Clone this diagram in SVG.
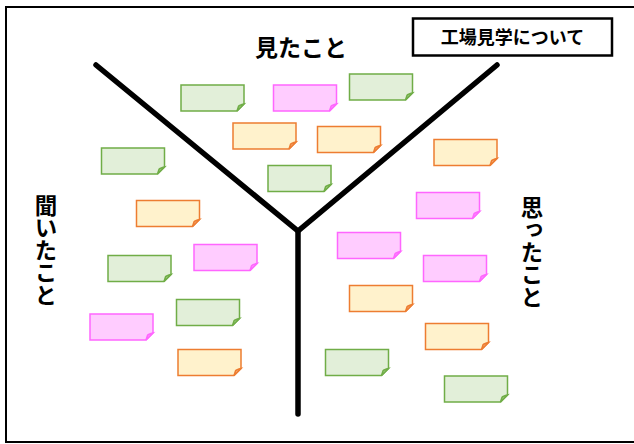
<svg xmlns="http://www.w3.org/2000/svg" xmlns:xlink="http://www.w3.org/1999/xlink" width="634" height="444" viewBox="0 0 634 444">
<style>
.frame{fill:#fff;stroke:#000;stroke-width:2}
.axis{fill:none;stroke:#000;stroke-width:5.5;stroke-linecap:round;stroke-linejoin:miter}
.lbl{font-family:"Noto Sans CJK JP","Noto Sans CJK SC",sans-serif;font-weight:bold;fill:#000}
.green{fill:#e2efd9;stroke:#70ad47;stroke-width:1.5}
.green .fold{fill:#a9d18e}
.pink{fill:#ffccff;stroke:#ff66ff;stroke-width:1.5}
.pink .fold{fill:#ff99ff}
.orange{fill:#fff2cc;stroke:#ed7d31;stroke-width:1.5}
.orange .fold{fill:#f4b183}
</style>
<defs>
<path id="body" d="M0,0 H63 V19 L56,26 H0 Z"/>
<path id="fold" d="M56,26 L57.6,21.2 Q58.5,20 63,19 Z"/>
</defs>
<rect class="frame" x="6" y="7" width="640" height="435"/>
<g id="title">
<rect x="413" y="18.5" width="199" height="37" fill="#fff" stroke="#000" stroke-width="2.5"/>
<text class="lbl" x="512.5" y="43.5" font-size="18" text-anchor="middle">工場見学について</text>
</g>
<g id="connectors">
<path class="axis" d="M96,65 L298,231 L497,65"/>
<path class="axis" d="M298,231 V414"/>
</g>
<g id="label-top"><text class="lbl" x="301" y="55.5" font-size="23" text-anchor="middle">見たこと</text></g>
<g id="label-left"><text class="lbl" x="46" y="250" font-size="22.5" text-anchor="middle" writing-mode="vertical-rl">聞いたこと</text></g>
<g id="label-right"><text class="lbl" x="532" y="252" font-size="22.5" text-anchor="middle" writing-mode="vertical-rl">思ったこと</text></g>
<g id="n-g1" class="green" transform="translate(181,85)"><use href="#body"/><use href="#fold" class="fold"/></g>
<g id="n-p1" class="pink" transform="translate(273.5,85)"><use href="#body"/><use href="#fold" class="fold"/></g>
<g id="n-g2" class="green" transform="translate(349.5,74)"><use href="#body"/><use href="#fold" class="fold"/></g>
<g id="n-o1" class="orange" transform="translate(233,123)"><use href="#body"/><use href="#fold" class="fold"/></g>
<g id="n-o2" class="orange" transform="translate(317.5,126.5)"><use href="#body"/><use href="#fold" class="fold"/></g>
<g id="n-g3" class="green" transform="translate(268,165.5)"><use href="#body"/><use href="#fold" class="fold"/></g>
<g id="n-o3" class="orange" transform="translate(434,139.5)"><use href="#body"/><use href="#fold" class="fold"/></g>
<g id="n-g4" class="green" transform="translate(101.5,148)"><use href="#body"/><use href="#fold" class="fold"/></g>
<g id="n-o4" class="orange" transform="translate(136.5,200.5)"><use href="#body"/><use href="#fold" class="fold"/></g>
<g id="n-p2" class="pink" transform="translate(416.5,192.5)"><use href="#body"/><use href="#fold" class="fold"/></g>
<g id="n-p3" class="pink" transform="translate(337.5,232.5)"><use href="#body"/><use href="#fold" class="fold"/></g>
<g id="n-p4" class="pink" transform="translate(194,244.5)"><use href="#body"/><use href="#fold" class="fold"/></g>
<g id="n-g5" class="green" transform="translate(108,255.5)"><use href="#body"/><use href="#fold" class="fold"/></g>
<g id="n-p5" class="pink" transform="translate(423.5,255.5)"><use href="#body"/><use href="#fold" class="fold"/></g>
<g id="n-o5" class="orange" transform="translate(349.5,285.5)"><use href="#body"/><use href="#fold" class="fold"/></g>
<g id="n-g6" class="green" transform="translate(176.5,299.5)"><use href="#body"/><use href="#fold" class="fold"/></g>
<g id="n-p6" class="pink" transform="translate(90,314)"><use href="#body"/><use href="#fold" class="fold"/></g>
<g id="n-o6" class="orange" transform="translate(425.5,323.5)"><use href="#body"/><use href="#fold" class="fold"/></g>
<g id="n-o7" class="orange" transform="translate(178,349.5)"><use href="#body"/><use href="#fold" class="fold"/></g>
<g id="n-g7" class="green" transform="translate(325.5,349.5)"><use href="#body"/><use href="#fold" class="fold"/></g>
<g id="n-g8" class="green" transform="translate(444.5,376)"><use href="#body"/><use href="#fold" class="fold"/></g>
</svg>
